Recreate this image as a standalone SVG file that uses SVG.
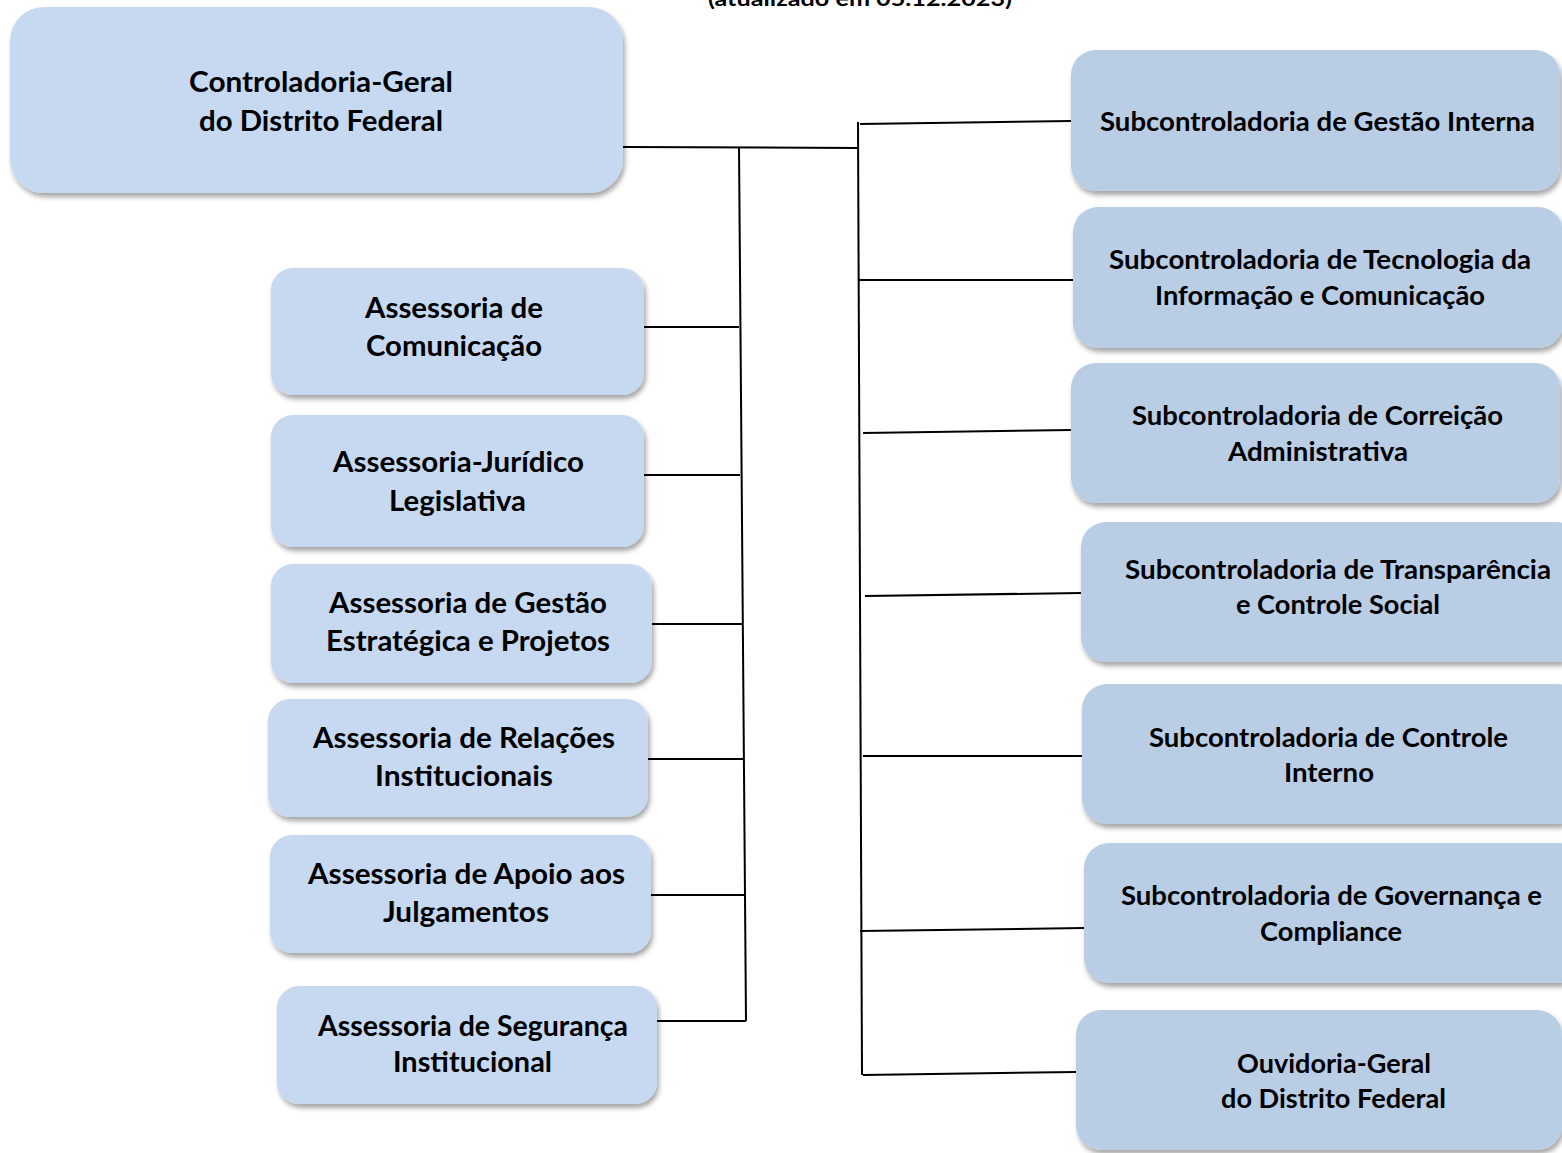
<svg xmlns="http://www.w3.org/2000/svg" width="1562" height="1153" viewBox="0 0 1562 1153">
<defs>
<filter id="sh" x="-10%" y="-10%" width="125%" height="130%">
<feDropShadow dx="2" dy="4" stdDeviation="2.5" flood-color="#000" flood-opacity="0.35"/>
</filter>
<style>
.l{fill:#C6D9F1;filter:url(#sh)}
.r{fill:#B9CDE5;filter:url(#sh)}
text{font-family:Lato,"Liberation Sans",sans-serif;font-weight:bold;fill:#000;text-anchor:middle}
.tl{font-size:28px}
.tr{font-size:26px}
.c{stroke:#000;stroke-width:2;fill:none}
</style>
</defs>
<rect width="1562" height="1153" fill="#fff"/>
<text x="860" y="6" style="font-size:21px" textLength="304" lengthAdjust="spacingAndGlyphs">(atualizado em 05.12.2023)</text>

<g id="connectors">
<path class="c" d="M623,147 L858,148"/>
<path class="c" d="M739,147 L746,1021"/>
<path class="c" d="M858,122 L862,1075"/>
<path class="c" d="M644,327 L739,327"/>
<path class="c" d="M644,475 L740,475"/>
<path class="c" d="M652,624 L742,624"/>
<path class="c" d="M648,759 L743,759"/>
<path class="c" d="M651,895 L744,895"/>
<path class="c" d="M657,1021 L746,1021"/>
<path class="c" d="M860,124 L1071,121"/>
<path class="c" d="M859,280 L1073,280"/>
<path class="c" d="M863,433 L1071,430"/>
<path class="c" d="M865,596 L1081,593"/>
<path class="c" d="M863,756 L1082,756"/>
<path class="c" d="M860,931 L1084,928"/>
<path class="c" d="M863,1075 L1076,1072"/>
</g>

<g id="cgdf">
<rect class="l" x="10" y="7" width="613" height="186" rx="34"/>
<text class="tl" x="321" y="92" textLength="264" lengthAdjust="spacingAndGlyphs">Controladoria-Geral</text>
<text class="tl" x="321" y="131" textLength="244" lengthAdjust="spacingAndGlyphs">do Distrito Federal</text>
</g>

<g id="ascom">
<rect class="l" x="271" y="268" width="373" height="127" rx="22"/>
<text class="tl" x="454" y="318" textLength="178" lengthAdjust="spacingAndGlyphs">Assessoria de</text>
<text class="tl" x="454" y="356" textLength="176" lengthAdjust="spacingAndGlyphs">Comunicação</text>
</g>
<g id="ajl">
<rect class="l" x="271" y="415" width="373" height="132" rx="22"/>
<text class="tl" x="458.5" y="472" textLength="251" lengthAdjust="spacingAndGlyphs">Assessoria-Jurídico</text>
<text class="tl" x="457.5" y="511" textLength="137" lengthAdjust="spacingAndGlyphs">Legislativa</text>
</g>
<g id="agep">
<rect class="l" x="271" y="564" width="381" height="119" rx="22"/>
<text class="tl" x="468" y="613" textLength="278" lengthAdjust="spacingAndGlyphs">Assessoria de Gestão</text>
<text class="tl" x="468" y="651" textLength="284" lengthAdjust="spacingAndGlyphs">Estratégica e Projetos</text>
</g>
<g id="ari">
<rect class="l" x="268" y="699" width="380" height="118" rx="22"/>
<text class="tl" x="464" y="748" textLength="302" lengthAdjust="spacingAndGlyphs">Assessoria de Relações</text>
<text class="tl" x="464" y="786" textLength="178" lengthAdjust="spacingAndGlyphs">Institucionais</text>
</g>
<g id="aaj">
<rect class="l" x="270" y="835" width="381" height="118" rx="22"/>
<text class="tl" x="466.5" y="884" textLength="317" lengthAdjust="spacingAndGlyphs">Assessoria de Apoio aos</text>
<text class="tl" x="466" y="922" textLength="166" lengthAdjust="spacingAndGlyphs">Julgamentos</text>
</g>
<g id="asi">
<rect class="l" x="277" y="986" width="380" height="118" rx="22"/>
<text class="tl" x="473" y="1036" textLength="310" lengthAdjust="spacingAndGlyphs">Assessoria de Segurança</text>
<text class="tl" x="472.5" y="1072" textLength="159" lengthAdjust="spacingAndGlyphs">Institucional</text>
</g>

<g id="sugi">
<rect class="r" x="1071" y="50" width="489" height="141" rx="25"/>
<text class="tr" x="1317.5" y="131" textLength="435" lengthAdjust="spacingAndGlyphs">Subcontroladoria de Gestão Interna</text>
</g>
<g id="sutic">
<rect class="r" x="1073" y="207" width="490" height="141" rx="25"/>
<text class="tr" x="1320" y="269" textLength="422" lengthAdjust="spacingAndGlyphs">Subcontroladoria de Tecnologia da</text>
<text class="tr" x="1320" y="305" textLength="330" lengthAdjust="spacingAndGlyphs">Informação e Comunicação</text>
</g>
<g id="sucor">
<rect class="r" x="1071" y="363" width="489" height="140" rx="25"/>
<text class="tr" x="1317.5" y="425" textLength="371" lengthAdjust="spacingAndGlyphs">Subcontroladoria de Correição</text>
<text class="tr" x="1318" y="461" textLength="180" lengthAdjust="spacingAndGlyphs">Administrativa</text>
</g>
<g id="sutcs">
<rect class="r" x="1081" y="522" width="500" height="140" rx="25"/>
<text class="tr" x="1338" y="579" textLength="426" lengthAdjust="spacingAndGlyphs">Subcontroladoria de Transparência</text>
<text class="tr" x="1338" y="614" textLength="204" lengthAdjust="spacingAndGlyphs">e Controle Social</text>
</g>
<g id="suci">
<rect class="r" x="1082" y="684" width="500" height="140" rx="25"/>
<text class="tr" x="1328.5" y="747" textLength="359" lengthAdjust="spacingAndGlyphs">Subcontroladoria de Controle</text>
<text class="tr" x="1329" y="782" textLength="90" lengthAdjust="spacingAndGlyphs">Interno</text>
</g>
<g id="sugc">
<rect class="r" x="1084" y="843" width="500" height="140" rx="25"/>
<text class="tr" x="1331.5" y="905" textLength="421" lengthAdjust="spacingAndGlyphs">Subcontroladoria de Governança e</text>
<text class="tr" x="1331" y="941" textLength="142" lengthAdjust="spacingAndGlyphs">Compliance</text>
</g>
<g id="ouv">
<rect class="r" x="1076" y="1010" width="486" height="140" rx="25"/>
<text class="tr" x="1334" y="1073" textLength="194" lengthAdjust="spacingAndGlyphs">Ouvidoria-Geral</text>
<text class="tr" x="1333.5" y="1108" textLength="225" lengthAdjust="spacingAndGlyphs">do Distrito Federal</text>
</g>
</svg>
